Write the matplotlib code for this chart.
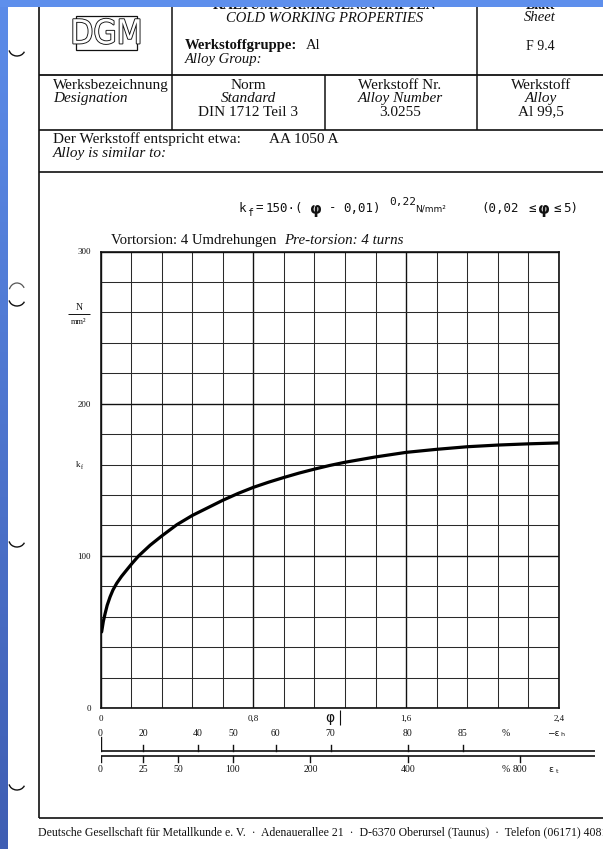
import numpy as np
import matplotlib
matplotlib.use("Agg")
import matplotlib.pyplot as plt
from matplotlib.patches import Rectangle, Arc
from matplotlib.ticker import MultipleLocator, FixedLocator
import matplotlib.patheffects as pe

# ---- data -------------------------------------------------------------
# flow stress kf (N/mm^2) against true strain phi, Al 99,5 (pre-torsion 4 turns)
phi = [0.006, 0.015, 0.024, 0.035, 0.05, 0.065, 0.085, 0.11, 0.137, 0.165,
       0.20, 0.26, 0.32, 0.40, 0.48, 0.56, 0.64, 0.72, 0.80, 0.88, 0.96,
       1.04, 1.12, 1.20, 1.28, 1.44, 1.60, 1.76, 1.92, 2.08, 2.24, 2.40]
kf = [50.0, 57.0, 62.0, 67.5, 73.0, 77.5, 82.0, 86.5, 90.7, 95.0,
      100.0, 107.0, 113.0, 120.5, 126.5, 131.5, 136.5, 141.0, 145.0, 148.4, 151.5,
      154.4, 157.0, 159.4, 161.5, 165.0, 168.0, 170.0, 171.7, 172.8, 173.6, 174.2]

phi_ticks = [0, 0.8, 1.6, 2.4]
phi_ticklabels = ["0", "0,8", "1,6", "2,4"]
kf_ticks = [0, 100, 200, 300]

# secondary strain scales (percent)
eh_vals = [0, 20, 40, 50, 60, 70, 80, 85]          # height reduction -eps_h
et_vals = [0, 25, 50, 100, 200, 400, 800]          # torsional strain eps_t

W, H = 603, 849
fig = plt.figure(figsize=(W / 100, H / 100), dpi=100)
fig.patch.set_facecolor("white")

SERIF = "Liberation Serif"
MONO = "DejaVu Sans Mono"
INK = "#111111"

# ---- page (pixel coordinates) -----------------------------------------
page = fig.add_axes([0, 0, 1, 1], zorder=0)
page.set_xlim(0, W)
page.set_ylim(H, 0)
page.axis("off")

def hline(y, x0, x1, lw=1.1):
    page.plot([x0, x1], [y, y], color=INK, lw=lw, solid_capstyle="butt")

def vline(x, y0, y1, lw=1.1):
    page.plot([x, x], [y0, y1], color=INK, lw=lw, solid_capstyle="butt")

def txt(x, y, s, size=11, ha="left", style="normal", weight="normal", family=SERIF,
        va="center", **kw):
    page.text(x, y, s, fontsize=size, ha=ha, va=va, style=style,
              weight=weight, family=family, color=INK, **kw)

# form frame
vline(39, 0, 818, lw=1.2)
hline(75, 39, W, lw=1.3)
hline(130, 39, W, lw=1.2)
hline(172, 39, W, lw=1.2)
hline(818, 39, W, lw=1.2)
vline(172, 0, 130, lw=1.1)
vline(477, 0, 130, lw=1.1)
vline(325, 75, 130, lw=1.1)

# header row 1 (German titles run into the top margin of the sheet)
txt(325, 9, "KALTUMFORMEIGENSCHAFTEN", size=10, ha="center", weight="bold", va="baseline")
txt(325, 18, "COLD WORKING PROPERTIES", size=10.5, ha="center", style="italic")
txt(185, 45, "Werkstoffgruppe:", size=10.5, weight="bold")
txt(306, 45, "Al", size=10.5)
txt(185, 59, "Alloy Group:", size=10.5, style="italic")
txt(540, 8.5, "Blatt", size=10, ha="center", weight="bold", va="baseline")
txt(540, 17, "Sheet", size=10.5, ha="center", style="italic")
txt(540, 46, "F 9.4", size=10, ha="center")

# DGM logo
page.add_patch(Rectangle((76, 16), 61, 34, fill=False, lw=0.9, ec=INK))
page.text(106.5, 34, "DGM", fontsize=24, ha="center", va="center",
          family="DejaVu Sans", fontstretch="condensed", color="white",
          path_effects=[pe.withStroke(linewidth=1.3, foreground=INK)])

# header row 2
txt(53, 85, "Werksbezeichnung")
txt(53, 98, "Designation", style="italic")
for cx, lines in [(248, ["Norm", "Standard", "DIN 1712 Teil 3"]),
                  (400, ["Werkstoff Nr.", "Alloy Number", "3.0255"]),
                  (541, ["Werkstoff", "Alloy", "Al 99,5"])]:
    txt(cx, 85, lines[0], ha="center")
    txt(cx, 98, lines[1], ha="center", style="italic")
    txt(cx, 112, lines[2], ha="center")

# header row 3
txt(53, 139, "Der Werkstoff entspricht etwa:")
txt(269, 139, "AA 1050 A")
txt(53, 153, "Alloy is similar to:", style="italic")

# equation line (typewriter setting)
EQ = 9
txt(238, 208, "k", size=EQ, family=MONO)
txt(247, 213, "f", size=7, family=MONO)
txt(255, 208, "=", size=EQ, family=MONO)
txt(266, 208, "150\u00b7(", size=EQ, family=MONO)
txt(310, 209, "\u03c6", size=11, family="DejaVu Sans", weight="bold")
txt(329, 208, "-", size=EQ, family=MONO)
txt(343, 208, "0,01)", size=EQ, family=MONO)
txt(389, 202, "0,22", size=8, family=MONO)
txt(415, 209, "N/mm\u00b2", size=6.5, family="DejaVu Sans")
txt(481, 208, "(0,02", size=EQ, family=MONO)
txt(528, 208, "\u2264", size=EQ, family=MONO)
txt(538, 209, "\u03c6", size=11, family="DejaVu Sans", weight="bold")
txt(553, 208, "\u2264", size=EQ, family=MONO)
txt(563, 208, "5)", size=EQ, family=MONO)

txt(111, 240, "Vortorsion: 4 Umdrehungen", size=10.6)
txt(284, 240, "Pre-torsion: 4 turns", size=10.8, style="italic")

# y unit and symbol
txt(79, 307, "N", size=7, ha="center")
hline(314, 68, 90, lw=0.7)
txt(79, 322, "mm\u00b2", size=6, ha="center")
txt(78, 465, "k", size=6.5, ha="center")
txt(82, 467, "f", size=4.5, ha="center")

# phi axis name
page.text(330, 718, "\u03c6", fontsize=10, ha="center", va="center",
          family="DejaVu Sans", color=INK)
vline(340, 710, 725, lw=0.8)

# footer
txt(38, 832, "Deutsche Gesellschaft f\u00fcr Metallkunde e. V.  \u00b7  Adenauerallee 21  \u00b7  "
    "D-6370 Oberursel (Taunus)  \u00b7  Telefon (06171) 4081", size=8.5)

# punch-hole marks on the left margin
for yc in [42, 292, 533, 776]:
    page.add_patch(Arc((17, yc + 7), 16, 14, theta1=20, theta2=170, lw=1.0, color=INK))
page.add_patch(Arc((17, 292), 16, 18, theta1=200, theta2=330, lw=0.9, color="#555555"))

# scanner background strips
grad = np.linspace(0, 1, 256).reshape(-1, 1)
cmap = matplotlib.colors.LinearSegmentedColormap.from_list("scan", ["#5c8ce9", "#3f5eb3"])
page.imshow(grad, extent=(0, 8, H, 0), cmap=cmap, aspect="auto", zorder=10,
            origin="upper")
page.add_patch(Rectangle((0, 0), W, 7, color="#5e8fec", zorder=11, lw=0))
page.set_xlim(0, W)
page.set_ylim(H, 0)

# ---- flow curve chart -------------------------------------------------
left, right, top, bottom = 100.5, 559, 251.5, 708
ax = fig.add_axes([left / W, 1 - bottom / H, (right - left) / W, (bottom - top) / H], zorder=2)
ax.set_xlim(0, 2.4)
ax.set_ylim(0, 300)
ax.xaxis.set_major_locator(FixedLocator(phi_ticks))
ax.yaxis.set_major_locator(FixedLocator(kf_ticks))
ax.xaxis.set_minor_locator(MultipleLocator(0.16))
ax.yaxis.set_minor_locator(MultipleLocator(20))
ax.set_xticklabels(phi_ticklabels)
ax.set_yticklabels([str(v) for v in kf_ticks])
ax.tick_params(which="both", length=0)
ax.tick_params(axis="x", pad=5, labelsize=6.5, labelcolor=INK)
ax.tick_params(axis="y", pad=7, labelsize=6.5, labelcolor=INK)
for lab in ax.get_xticklabels() + ax.get_yticklabels():
    lab.set_family(SERIF)
ax.grid(which="minor", color="#2a2a2a", lw=0.75)
ax.grid(which="major", color="#111111", lw=1.0)
for s in ax.spines.values():
    s.set_color(INK)
    s.set_linewidth(1.2)
ax.plot(phi, kf, color="black", lw=2.3, solid_capstyle="round", solid_joinstyle="round", zorder=3)

# ---- strain scales below the chart ------------------------------------
s_right = 595
sc = fig.add_axes([left / W, 1 - 790 / H, (s_right - left) / W, (790 - 722) / H], zorder=2)
sc.set_xlim(0, 2.4 * (s_right - left) / (right - left))
sc.set_ylim(790, 722)
sc.axis("off")
xmax = sc.get_xlim()[1]
sc.plot([0, xmax], [751, 751], color=INK, lw=1.2)
sc.plot([0, xmax], [756, 756], color=INK, lw=1.2)

eh_pos = [-np.log(1 - v / 100) for v in eh_vals]
for v, p in zip(eh_vals, eh_pos):
    sc.plot([p, p], [751, 737 if v == 0 else 745], color=INK, lw=1.0)
    sc.text(p, 733, str(v), fontsize=7, ha="center", va="center", family=SERIF, color=INK)
sc.text(2.12, 733, "%", fontsize=7, ha="center", va="center", family=SERIF, color=INK)
sc.text(2.37, 733, "\u2212\u03b5", fontsize=6.5, ha="center", va="center", family="DejaVu Sans", color=INK)
sc.text(2.42, 735, "h", fontsize=4.5, ha="center", va="center", family="DejaVu Sans", color=INK)

et_pos = [np.log(1 + v / 100) for v in et_vals]
for v, p in zip(et_vals, et_pos):
    sc.plot([p, p], [756, 762], color=INK, lw=1.0)
    sc.text(p, 769, str(v), fontsize=7, ha="center", va="center", family=SERIF, color=INK)
sc.text(2.12, 769, "%", fontsize=7, ha="center", va="center", family=SERIF, color=INK)
sc.text(2.36, 769, "\u03b5", fontsize=6.5, ha="center", va="center", family="DejaVu Sans", color=INK)
sc.text(2.39, 771, "t", fontsize=4.5, ha="center", va="center", family="DejaVu Sans", color=INK)

fig.savefig("out.png", dpi=100, facecolor="white")
